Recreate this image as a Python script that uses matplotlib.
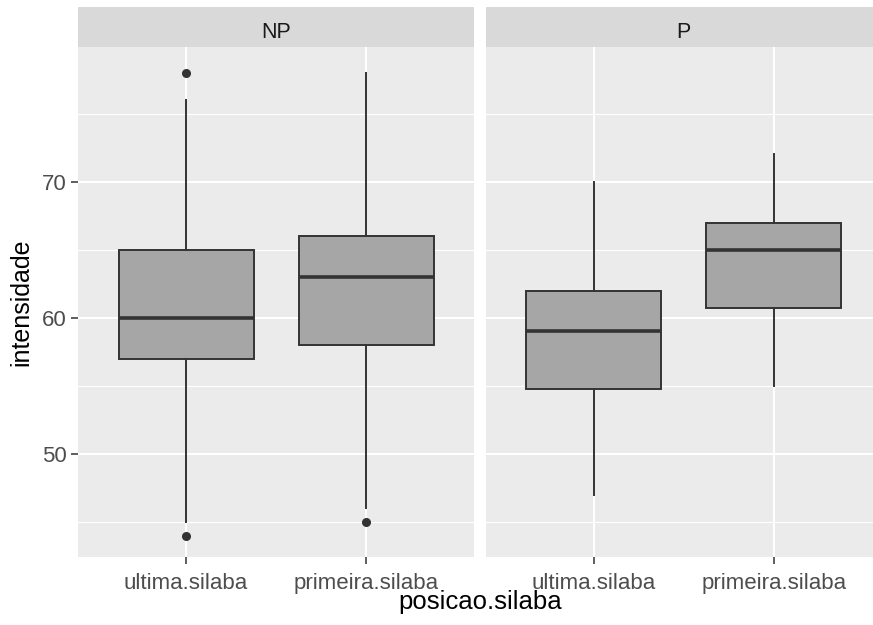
import matplotlib
matplotlib.use("Agg")
import matplotlib.pyplot as plt
from matplotlib.ticker import MultipleLocator

plt.rcParams['font.family'] = ['Liberation Sans', 'DejaVu Sans']

# data
facets = ["NP", "P"]
categories = ["ultima.silaba", "primeira.silaba"]

np_whislo = [45, 46]
np_q1 = [57, 58]
np_med = [60, 63]
np_q3 = [65, 66]
np_whishi = [76, 78]
np_fliers = [[78, 44], [45]]

p_whislo = [47, 55]
p_q1 = [54.75, 60.75]
p_med = [59, 65]
p_q3 = [62, 67]
p_whishi = [70, 72]
p_fliers = [[], []]

panel_data = {
    "NP": (np_whislo, np_q1, np_med, np_q3, np_whishi, np_fliers),
    "P": (p_whislo, p_q1, p_med, p_q3, p_whishi, p_fliers),
}

W, H = 873, 625
fig = plt.figure(figsize=(W / 100, H / 100), dpi=100)

panel_bg = "#EBEBEB"
strip_bg = "#D9D9D9"
edge = "#333333"
fill = "#A6A6A6"

lefts = [78, 485.7]
pw = 396.3
top, bottom = 47, 557.3
strip_top = 7

for i, facet in enumerate(facets):
    ax = fig.add_axes([lefts[i] / W, 1 - bottom / H, pw / W, (bottom - top) / H])
    ax.set_facecolor(panel_bg)
    for s in ax.spines.values():
        s.set_visible(False)

    whislo, q1, med, q3, whishi, fliers = panel_data[facet]
    stats = []
    for j, cat in enumerate(categories):
        stats.append(dict(whislo=whislo[j], q1=q1[j], med=med[j], q3=q3[j],
                          whishi=whishi[j], fliers=fliers[j], label=cat))
    ax.bxp(stats, positions=[1, 2], widths=0.75, showcaps=False, patch_artist=True,
           boxprops=dict(facecolor=fill, edgecolor=edge, linewidth=1.4),
           medianprops=dict(color=edge, linewidth=2.6, solid_capstyle="butt"),
           whiskerprops=dict(color=edge, linewidth=1.4),
           flierprops=dict(marker="o", markerfacecolor=edge, markeredgecolor=edge,
                           markersize=5.5, linestyle="none"),
           zorder=3)

    ax.set_xlim(0.4, 2.6)
    ax.set_ylim(42.41, 79.89)
    ax.yaxis.set_major_locator(MultipleLocator(10))
    ax.yaxis.set_minor_locator(MultipleLocator(5))
    ax.set_xticks([1, 2])
    ax.set_xticklabels(categories)
    ax.grid(True, which="major", color="white", linewidth=1.5, zorder=0)
    ax.grid(True, which="minor", axis="y", color="white", linewidth=0.8, zorder=0)
    ax.set_axisbelow(True)
    ax.tick_params(axis="both", which="major", length=5, width=1.1, color=edge,
                   labelsize=16, labelcolor="#4D4D4D", pad=3)
    ax.tick_params(axis="x", which="major", pad=6)
    ax.tick_params(axis="y", which="minor", length=0)
    if i == 0:
        ax.set_ylabel("intensidade", fontsize=18, color="black", labelpad=6)
    else:
        ax.tick_params(axis="y", which="both", left=False, labelleft=False)

    sax = fig.add_axes([lefts[i] / W, 1 - top / H, pw / W, (top - strip_top) / H])
    sax.set_facecolor(strip_bg)
    sax.set_xticks([])
    sax.set_yticks([])
    for s in sax.spines.values():
        s.set_visible(False)
    sax.text(0.5, 0.36, facet, ha="center", va="center", fontsize=15.5,
             color="#1A1A1A", transform=sax.transAxes)

fig.text((78 + 485.7 + pw) / 2 / W, 1 - 602 / H, "posicao.silaba",
         ha="center", va="center", fontsize=18.5, color="black")

fig.savefig("out.png", dpi=100, facecolor="white")
